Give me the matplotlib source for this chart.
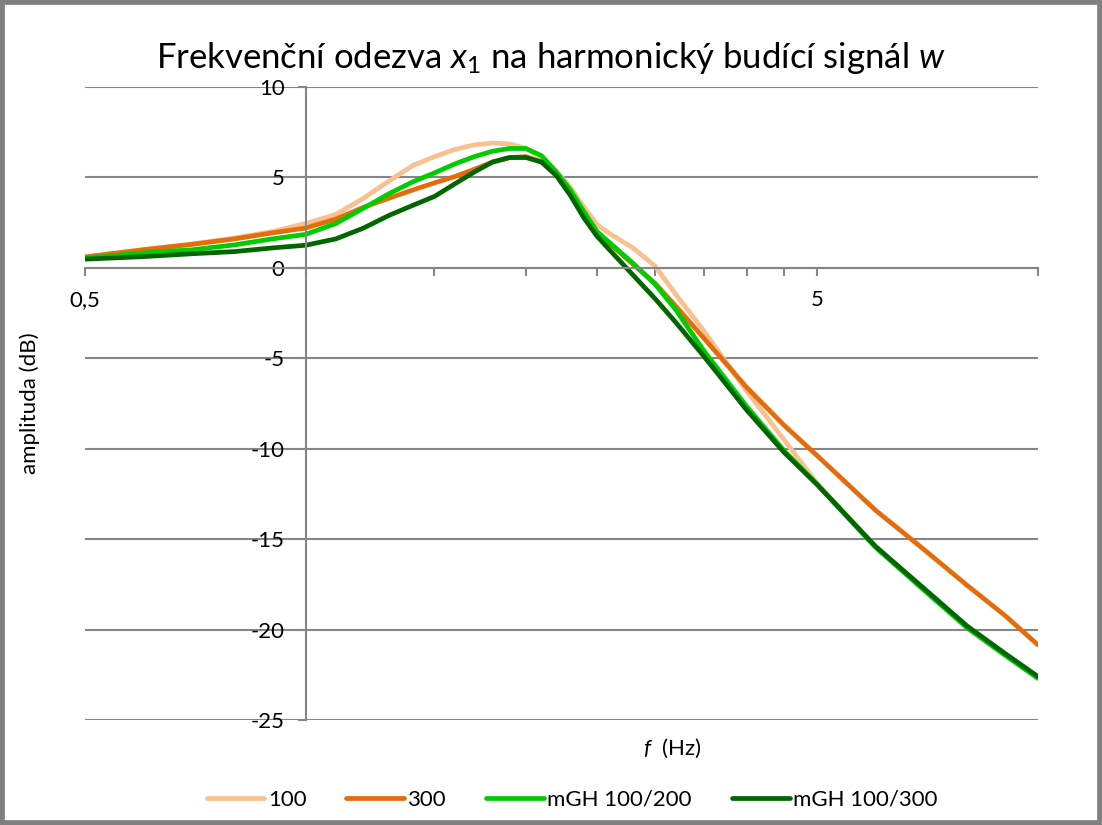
import matplotlib
matplotlib.use('Agg')
import matplotlib.pyplot as plt
from matplotlib.patches import Rectangle
from matplotlib.ticker import FixedLocator, NullFormatter

plt.rcParams['font.family'] = ['Lato', 'DejaVu Sans']
plt.rcParams['axes.unicode_minus'] = False
plt.rcParams['mathtext.fontset'] = 'custom'
plt.rcParams['mathtext.rm'] = 'Lato'
plt.rcParams['mathtext.it'] = 'Lato:italic'

# frekvence (Hz)
freq = [0.5, 0.6, 0.7, 0.8, 0.9, 1.0, 1.1, 1.2, 1.3, 1.4, 1.5, 1.6, 1.7, 1.8, 1.9,
        2.0, 2.1, 2.2, 2.3, 2.4, 2.5, 2.6, 2.8, 3.0, 3.2, 3.5, 4.0, 4.5, 5.0,
        6.0, 7.0, 8.0, 9.0, 10.0]

# amplituda (dB)
amp_100 = [0.6, 1.0, 1.32, 1.65, 2.0, 2.45, 2.95, 3.85, 4.8, 5.65, 6.15, 6.55, 6.8, 6.9, 6.85,
           6.6, 6.1, 5.35, 4.45, 3.35, 2.4, 1.9, 1.1, 0.1, -1.45, -3.5, -6.8, -9.5, -11.95,
           -15.4, -17.8, -19.85, -21.35, -22.65]
amp_300 = [0.6, 1.0, 1.3, 1.6, 1.93, 2.2, 2.7, 3.35, 3.85, 4.3, 4.7, 5.05, 5.45, 5.85, 6.1,
           6.15, 5.85, 5.15, 4.2, 3.05, 2.0, 1.35, 0.2, -0.85, -2.1, -3.9, -6.6, -8.7, -10.4,
           -13.4, -15.6, -17.55, -19.2, -20.85]
amp_gh200 = [0.53, 0.83, 1.0, 1.27, 1.6, 1.85, 2.45, 3.3, 4.1, 4.75, 5.25, 5.75, 6.15, 6.45, 6.6,
             6.6, 6.2, 5.3, 4.3, 3.1, 2.0, 1.4, 0.25, -0.9, -2.3, -4.6, -7.65, -10.1, -12.0,
             -15.45, -17.85, -19.9, -21.4, -22.7]
amp_gh300 = [0.48, 0.62, 0.78, 0.9, 1.1, 1.25, 1.6, 2.2, 2.9, 3.45, 3.95, 4.65, 5.3, 5.85, 6.1,
             6.1, 5.85, 5.1, 4.0, 2.75, 1.75, 1.0, -0.4, -1.7, -3.0, -4.9, -7.85, -10.2, -12.0,
             -15.4, -17.75, -19.8, -21.3, -22.6]

series = [('100', amp_100, '#FAC090'),
          ('300', amp_300, '#E46C0A'),
          ('mGH 100/200', amp_gh200, '#00CC00'),
          ('mGH 100/300', amp_gh300, '#006600')]

y_ticks = [-25, -20, -15, -10, -5, 0, 5, 10]
x_major = [0.5, 5]
x_major_labels = ['0,5', '5']
x_minor = [1, 1.5, 2, 2.5, 3, 3.5, 4, 4.5, 10]

W, H = 1102, 825
grey = '#868686'

fig = plt.figure(figsize=(W / 100, H / 100), dpi=100)
ax = fig.add_axes([85 / W, 105 / H, 953 / W, 633 / H])

for name, vals, col in series:
    ax.plot(freq, vals, color=col, lw=3.4, label=name,
            solid_joinstyle='round', solid_capstyle='round')

ax.set_xscale('log')
ax.set_xlim(0.5, 10)
ax.set_ylim(-25, 10)

ax.xaxis.set_major_locator(FixedLocator(x_major))
ax.set_xticklabels(x_major_labels)
ax.xaxis.set_minor_locator(FixedLocator(x_minor))
ax.xaxis.set_minor_formatter(NullFormatter())
ax.set_yticks(y_ticks)
ax.set_yticklabels([str(v) for v in y_ticks])

ax.spines['top'].set_visible(False)
ax.spines['right'].set_visible(False)
ax.spines['left'].set_position(('data', 1))
ax.spines['bottom'].set_position(('data', 0))
for s in ('left', 'bottom'):
    ax.spines[s].set_color(grey)
    ax.spines[s].set_linewidth(1.5)

ax.yaxis.grid(True, color=grey, lw=1.5)
ax.set_axisbelow(True)
ax.tick_params(axis='x', which='both', direction='out', length=6, width=1.5,
               color=grey, pad=10, labelsize=16)
ax.tick_params(axis='y', which='major', direction='out', length=6, width=1.5,
               color=grey, pad=9, labelsize=16)

fig.text(0.5, 1 - 58 / H, 'Frekvenční odezva $x_1$ na harmonický budící signál $w$',
         ha='center', va='center', fontsize=25)
fig.text(672 / W, 1 - 748 / H, '$f$  (Hz)', ha='center', va='center', fontsize=16)
fig.text(30 / W, 1 - 403 / H, 'amplituda (dB)', rotation=90, ha='center', va='center',
         fontsize=16)

fig.legend(loc='center', bbox_to_anchor=(572 / W, 1 - 800 / H), ncol=4, frameon=False,
           fontsize=16, handlelength=2.6, handletextpad=0.15, columnspacing=1.8)

fig.patches.append(Rectangle((0, 0), 1, 1, transform=fig.transFigure, fill=False,
                             edgecolor='#808080', lw=7))

fig.savefig('out.png', dpi=100)
